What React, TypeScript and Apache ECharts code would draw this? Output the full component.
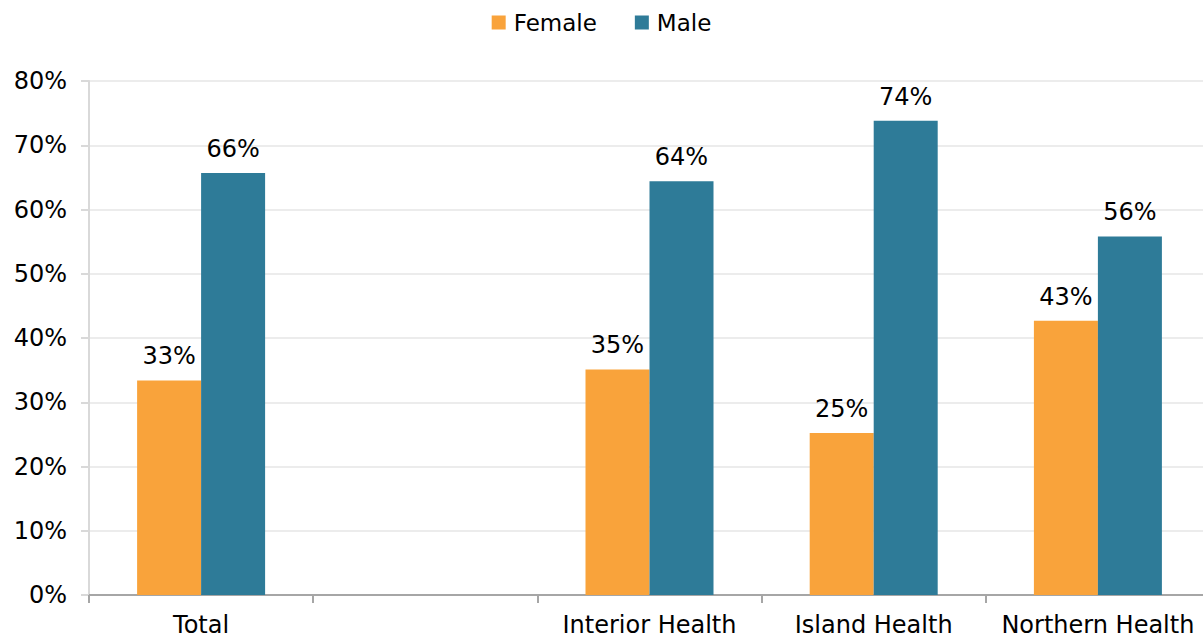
import React, { useEffect, useRef } from "react";
import * as echarts from "echarts";

const categories = ["Total", "", "Interior Health", "Island Health", "Northern Health"];
const female = [33.4, null, 35.1, 25.2, 42.7];
const male = [65.7, null, 64.4, 73.8, 55.8];
const yTicks = [0, 10, 20, 30, 40, 50, 60, 70, 80];

const FONT = "'DejaVu Sans', Verdana, sans-serif";
const FS = 24;

export default function App() {
  const ref = useRef<HTMLDivElement>(null);
  useEffect(() => {
    if (!ref.current) return;
    const chart = echarts.init(ref.current, undefined, { renderer: "svg" });
    const label = {
      show: true,
      position: "top",
      distance: 12,
      color: "#000",
      fontSize: FS,
      fontFamily: FONT,
      formatter: (p: any) => (p.value == null ? "" : Math.round(p.value) + "%"),
    };
    chart.setOption({
      animation: false,
      textStyle: { fontFamily: FONT },
      legend: {
        top: 6,
        left: "center",
        itemWidth: 14,
        itemHeight: 14,
        itemGap: 38,
        icon: "rect",
        textStyle: { fontSize: 23, color: "#000", fontFamily: FONT, padding: [0, 0, 0, 3] },
        data: ["Female", "Male"],
      },
      grid: {
        left: 89,
        width: 1121,
        top: 81,
        bottom: 44,
        containLabel: false,
        outerBoundsMode: "none",
      },
      xAxis: {
        type: "category",
        data: categories,
        axisLine: { lineStyle: { color: "#a6a6a6", width: 2 } },
        axisTick: { show: true, length: 8, lineStyle: { color: "#a6a6a6", width: 2 }, alignWithLabel: false },
        axisLabel: { fontSize: FS, color: "#000", fontFamily: FONT, margin: 18, interval: 0 },
      },
      yAxis: {
        type: "value",
        min: 0,
        max: 80,
        interval: 10,
        axisLine: { show: true, lineStyle: { color: "#d9d9d9", width: 2 } },
        axisTick: { show: true, length: 8, lineStyle: { color: "#d9d9d9", width: 2 } },
        splitLine: { lineStyle: { color: "#ececec", width: 2 } },
        axisLabel: {
          fontSize: FS,
          color: "#000",
          fontFamily: FONT,
          margin: 22,
          formatter: (v: number) => (yTicks.includes(v) ? v + "%" : ""),
        },
      },
      series: [
        {
          name: "Female",
          type: "bar",
          data: female,
          barWidth: 64,
          barGap: "0%",
          itemStyle: { color: "#F9A33B" },
          label,
        },
        {
          name: "Male",
          type: "bar",
          data: male,
          barWidth: 64,
          barGap: "0%",
          itemStyle: { color: "#2E7B98" },
          label,
        },
      ],
    });
    return () => chart.dispose();
  }, []);
  return <div ref={ref} style={{ width: 1203, height: 639, position: "absolute", left: 0, top: 0 }} />;
}
